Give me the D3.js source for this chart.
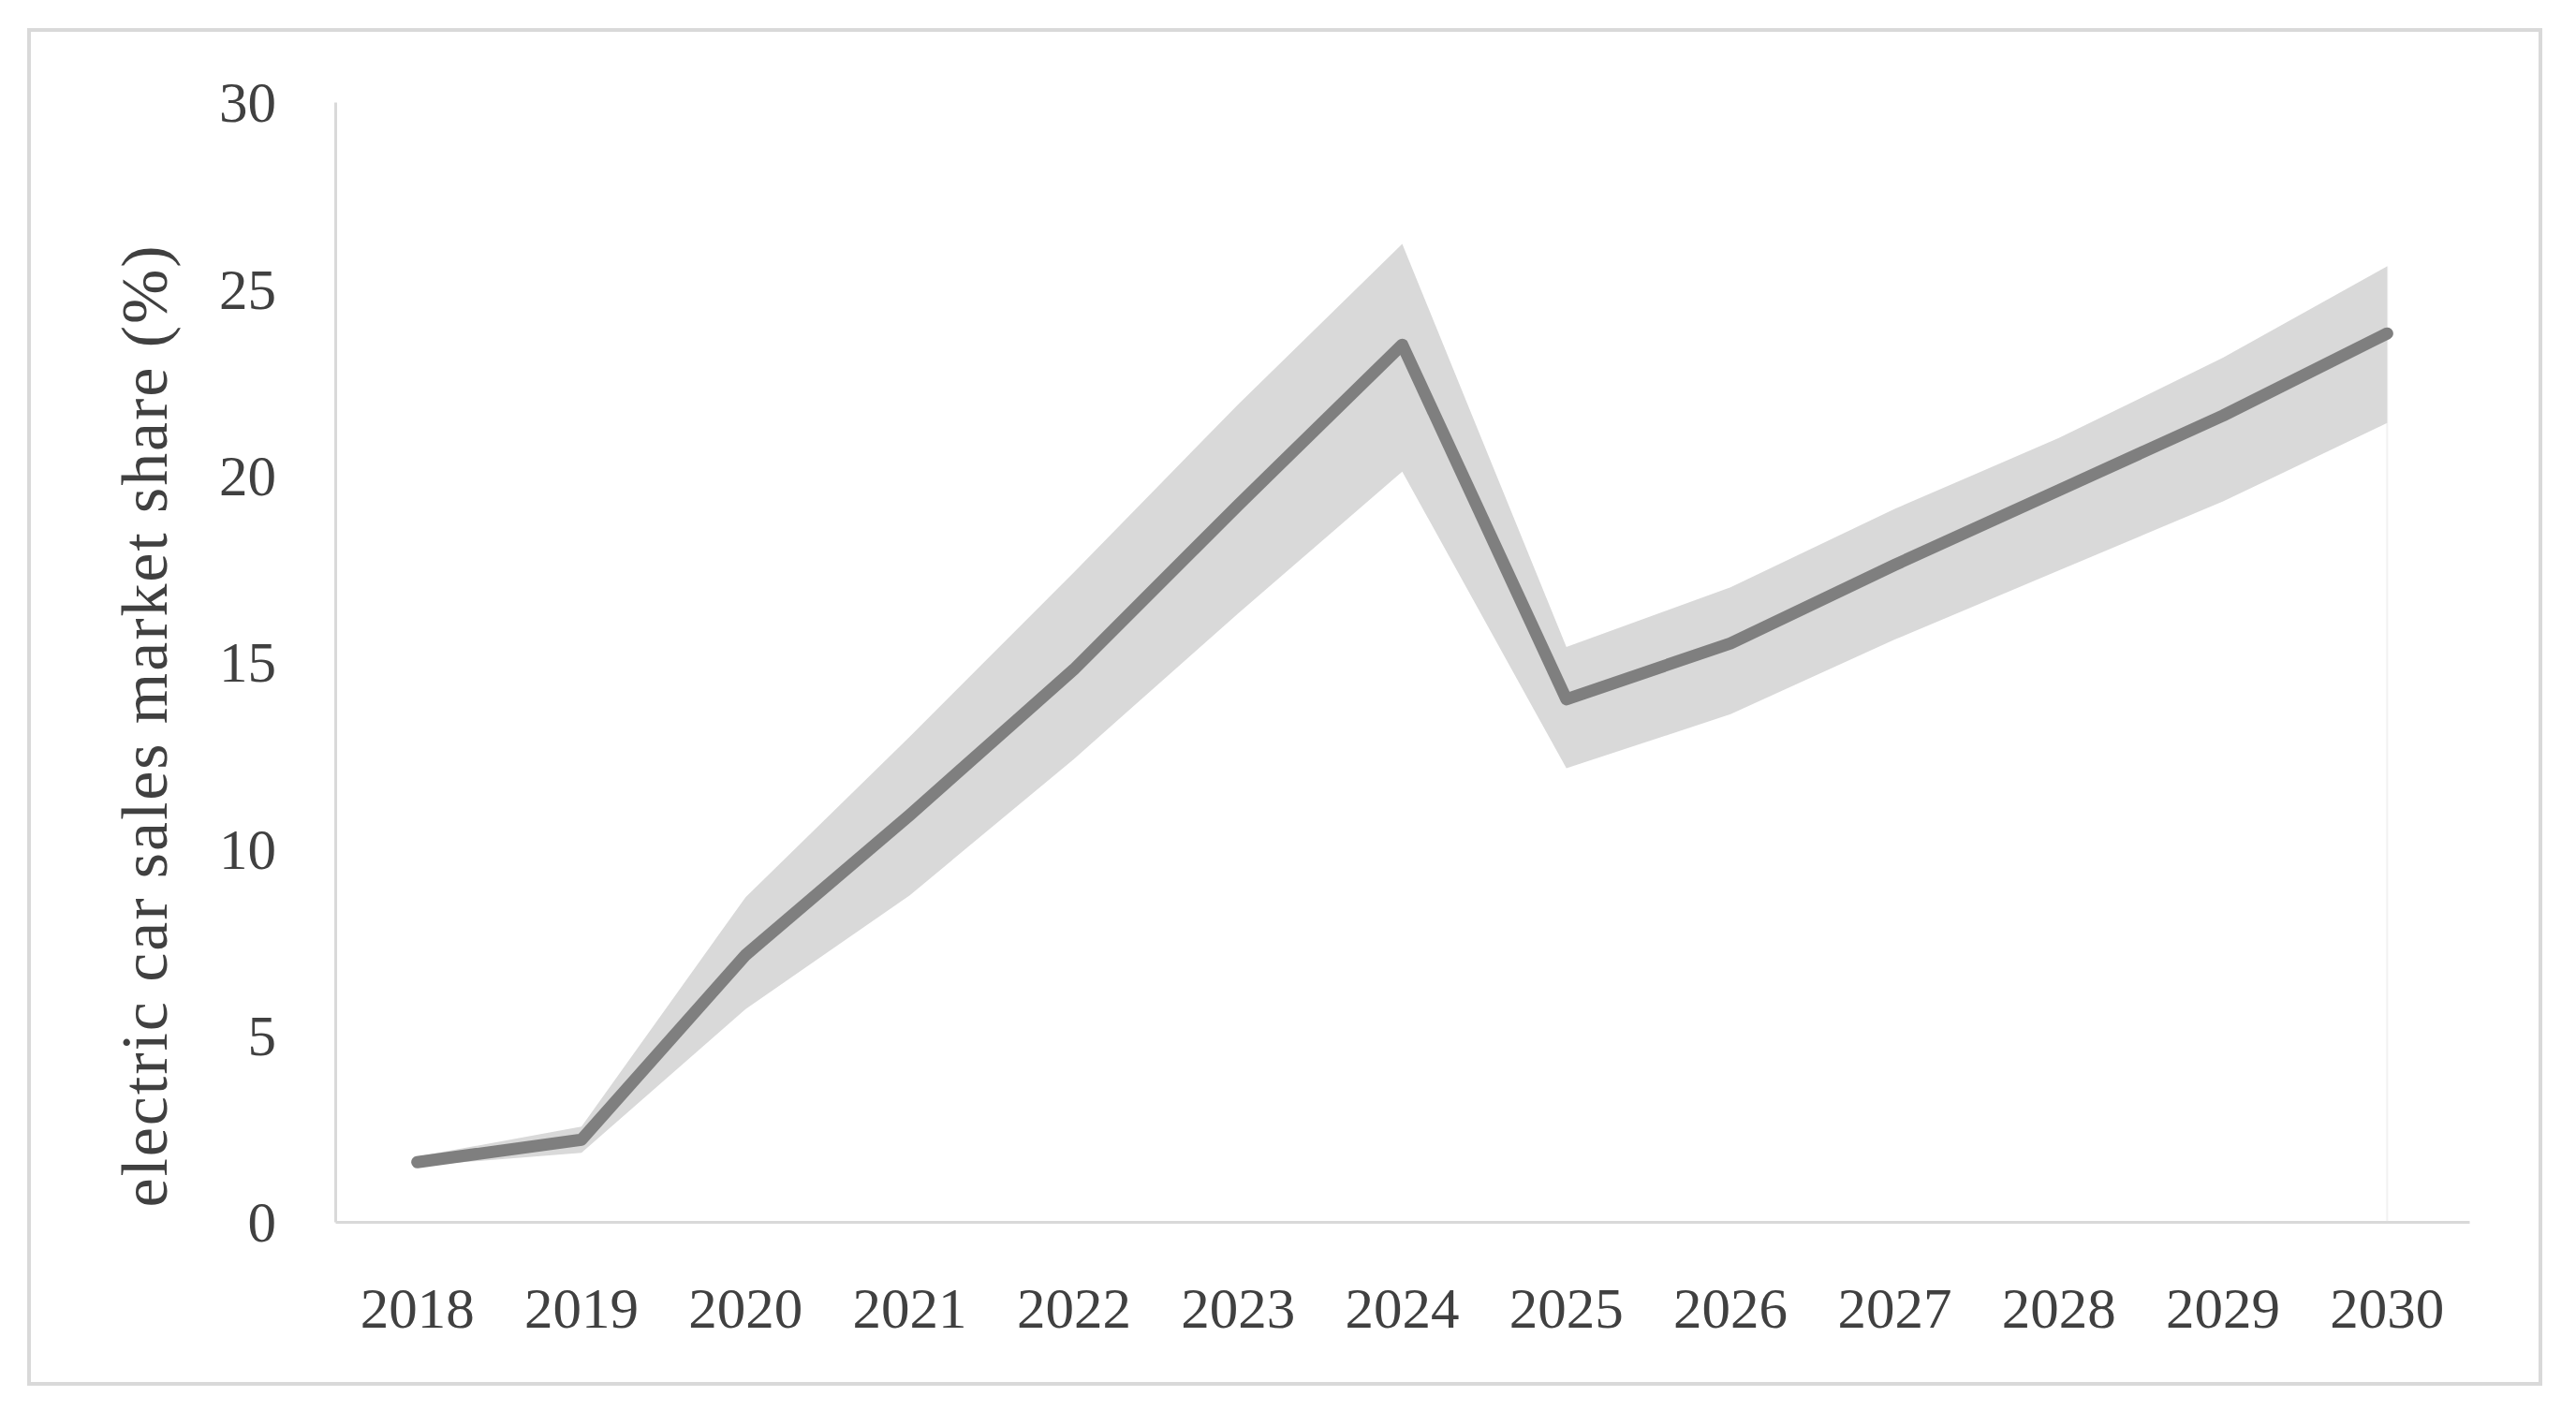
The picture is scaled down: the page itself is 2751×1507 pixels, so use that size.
<!DOCTYPE html>
<html>
<head>
<meta charset="utf-8">
<script src="https://cdn.jsdelivr.net/npm/d3@7"></script>
<style>
  html, body { margin: 0; padding: 0; background: #ffffff; }
  svg { display: block; }
</style>
</head>
<body>
<svg id="chart" width="2751" height="1507"></svg>
<script>
// ---- data ----
const years = ["2018","2019","2020","2021","2022","2023","2024","2025","2026","2027","2028","2029","2030"];
const share = [1.6, 2.2, 7.15, 10.9, 14.8, 19.2, 23.5, 14.0, 15.5, 17.6, 19.6, 21.6, 23.8];
const upper = [1.75, 2.55, 8.7, 13.0, 17.4, 21.9, 26.2, 15.4, 17.0, 19.1, 21.0, 23.15, 25.6];
const lower = [1.5, 1.85, 5.7, 8.75, 12.4, 16.3, 20.1, 12.15, 13.6, 15.6, 17.45, 19.3, 21.4];
const yTicks = [0, 5, 10, 15, 20, 25, 30];
const yTitle = "electric car sales market share (%)";

// ---- layout ----
const W = 2751, H = 1507;
const plot = { left: 358, right: 2637, top: 109, bottom: 1305 };
const font = "'Palatino Linotype', 'Book Antiqua', Palatino, 'Liberation Serif', 'Times New Roman', serif";
const textColor = "#404040";
const axisColor = "#d9d9d9";

const svg = d3.select("#chart");
svg.append("rect").attr("width", W).attr("height", H).attr("fill", "#ffffff");

// outer frame
svg.append("rect")
  .attr("x", 31).attr("y", 32)
  .attr("width", 2713 - 31).attr("height", 1478 - 32)
  .attr("fill", "none").attr("stroke", axisColor).attr("stroke-width", 4);

const x = d3.scaleBand().domain(years).range([plot.left, plot.right]).padding(0);
const y = d3.scaleLinear().domain([0, 30]).range([plot.bottom, plot.top]);
const cx = d => x(d) + x.bandwidth() / 2;

const data = years.map((yr, i) => ({ yr, v: share[i], hi: upper[i], lo: lower[i] }));

// faint vertical edge at last category
svg.append("line")
  .attr("x1", cx(years[years.length - 1])).attr("x2", cx(years[years.length - 1]))
  .attr("y1", y(upper[upper.length - 1])).attr("y2", y(0))
  .attr("stroke", "#f2f2f2").attr("stroke-width", 2);

// band
svg.append("path")
  .datum(data)
  .attr("fill", "#d9d9d9")
  .attr("d", d3.area().x(d => cx(d.yr)).y0(d => y(d.lo)).y1(d => y(d.hi)));

// axes
const yAxis = svg.append("g")
  .attr("transform", `translate(${plot.left},0)`)
  .call(d3.axisLeft(y).tickValues(yTicks).tickSize(0).tickSizeOuter(0).tickPadding(63));
yAxis.select(".domain").attr("stroke", axisColor).attr("stroke-width", 3);
yAxis.selectAll("text")
  .attr("fill", textColor).attr("font-family", font).attr("font-size", 61)
  .attr("dy", "0.34em");

const xAxis = svg.append("g")
  .attr("transform", `translate(0,${plot.bottom})`)
  .call(d3.axisBottom(x).tickSize(0).tickSizeOuter(0).tickPadding(0));
xAxis.select(".domain").attr("stroke", axisColor).attr("stroke-width", 3);
xAxis.selectAll("text")
  .attr("fill", textColor).attr("font-family", font).attr("font-size", 61)
  .attr("dy", 0).attr("y", 113);

// line
svg.append("path")
  .datum(data)
  .attr("fill", "none")
  .attr("stroke", "#7f7f7f")
  .attr("stroke-width", 13)
  .attr("stroke-linecap", "round")
  .attr("stroke-linejoin", "round")
  .attr("d", d3.line().x(d => cx(d.yr)).y(d => y(d.v)));

// y title
svg.append("text")
  .attr("transform", `translate(178,776) rotate(-90)`)
  .attr("text-anchor", "middle")
  .attr("fill", textColor)
  .attr("font-family", font)
  .attr("font-size", 70)
  .attr("textLength", 1027)
  .attr("lengthAdjust", "spacing")
  .text(yTitle);
</script>
</body>
</html>
